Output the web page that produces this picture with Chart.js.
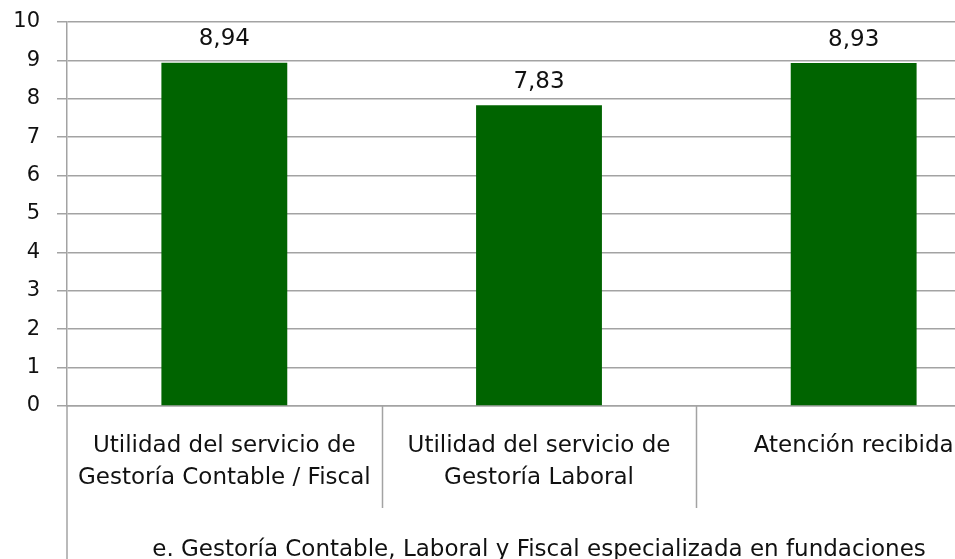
<!DOCTYPE html>
<html>
<head>
<title>Gestoría</title>
<style>
    html, body { margin: 0; padding: 0; overflow: hidden; background: #fff; }
    #wrap { width: 1020px; height: 580px; }
</style>
</head>
<body>

<div id="wrap">
    <canvas id="myChart" width="1020" height="580"></canvas>
</div>

<script src="https://cdn.jsdelivr.net/npm/chart.js"></script>

<script>

    const categories = [
        ['Utilidad del servicio de', 'Gestoría Contable / Fiscal'],
        ['Utilidad del servicio de', 'Gestoría Laboral'],
        ['Atención recibida']
    ];
    const valores = [8.94, 7.83, 8.93];
    const grupo = 'e. Gestoría Contable, Laboral y Fiscal especializada en fundaciones';

    const fuente = 'DejaVu Sans, Verdana, sans-serif';
    const gris = '#a3a3a3';

    // numeros encima de las barras
    const etiquetas = {
        id: 'etiquetas',
        afterDatasetsDraw(chart) {
            const ctx = chart.ctx;
            ctx.save();
            ctx.font = '23px ' + fuente;
            ctx.fillStyle = '#111';
            ctx.textAlign = 'center';
            ctx.textBaseline = 'bottom';
            chart.getDatasetMeta(0).data.forEach((bar, i) => {
                ctx.fillText(valores[i].toFixed(2).replace('.', ','), bar.x, bar.y - 12);
            });
            ctx.restore();
        }
    };

    // separadores de categorias y linea del grupo
    const separadores = {
        id: 'separadores',
        afterDraw(chart) {
            const ctx = chart.ctx;
            const x = chart.scales.x;
            const area = chart.chartArea;
            const paso = (x.right - x.left) / categories.length;
            ctx.save();
            ctx.strokeStyle = gris;
            ctx.lineWidth = 1.5;
            for (let i = 1; i < categories.length; i++) {
                const px = Math.round(x.left + paso * i) + 0.5;
                ctx.beginPath();
                ctx.moveTo(px, area.bottom);
                ctx.lineTo(px, area.bottom + 102);
                ctx.stroke();
            }
            ctx.beginPath();
            ctx.moveTo(area.left, area.bottom);
            ctx.lineTo(area.left, chart.height);
            ctx.stroke();
            ctx.restore();
        }
    };

    const ctx = document.getElementById('myChart');

    const config = {
        type: 'bar',
        data: {
            labels: categories,
            datasets: [{
                data: valores,
                backgroundColor: '#006400',
                barPercentage: 0.8,
                categoryPercentage: 0.5
            }]
        },
        options: {
            responsive: false,
            animation: false,
            layout: { padding: { top: 22, left: 0, right: 9, bottom: 0 } },
            plugins: {
                legend: { display: false },
                tooltip: { enabled: false }
            },
            scales: {
                x: {
                    grid: { display: false },
                    border: { color: gris, width: 1.5 },
                    ticks: {
                        color: '#111',
                        font: { family: fuente, size: 23, lineHeight: 1.35 },
                        padding: 17,
                        maxRotation: 0,
                        autoSkip: false
                    },
                    title: {
                        display: true,
                        text: grupo,
                        color: '#111',
                        font: { family: fuente, size: 23 },
                        padding: { top: 0, bottom: 16 }
                    },
                    afterFit(scale) {
                        scale.height = 174;
                        scale.paddingTop = 0;
                        scale.paddingBottom = 0;
                    }
                },
                y: {
                    min: 0,
                    max: 10,
                    grid: { color: gris, lineWidth: 1.5, tickLength: 10 },
                    border: { color: gris, width: 1.5 },
                    ticks: {
                        stepSize: 1,
                        color: '#111',
                        font: { family: fuente, size: 21 },
                        padding: 17
                    },
                    afterFit(scale) {
                        scale.width = 67;
                        scale.paddingTop = 0;
                        scale.paddingBottom = 0;
                    }
                }
            }
        },
        plugins: [etiquetas, separadores]
    };

    new Chart(ctx, config);

</script>

</body>
</html>
